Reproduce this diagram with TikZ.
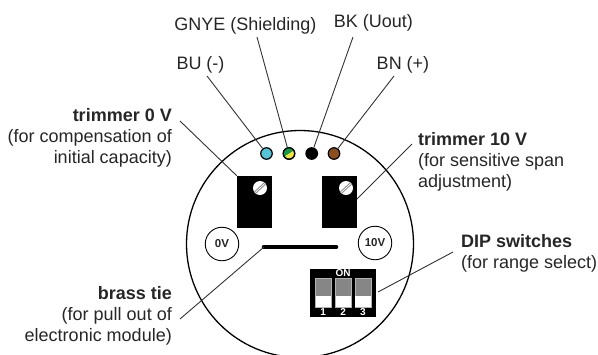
\documentclass[tikz,border=0pt]{standalone}
\usepackage{fontspec}
\usetikzlibrary{calc}
\setmainfont{Liberation Sans}
\definecolor{bublue}{HTML}{55C3D8}
\definecolor{gngreen}{HTML}{129A4E}
\definecolor{yeyellow}{HTML}{F2E640}
\definecolor{bnbrown}{HTML}{8B4E1E}
\definecolor{leadgray}{HTML}{333333}
\definecolor{txtgray}{HTML}{262626}
\tikzset{
  x=1pt,y=-1pt,
  lbl/.style={inner sep=0pt,text=txtgray,font=\fontsize{18}{21}\selectfont},
  wire/.style={inner sep=0pt,minimum size=11.5pt,circle,draw=black,line width=1.2pt},
  leader/.style={leadgray,line width=0.9pt},
  trimbox/.style={fill=black,draw=none,inner sep=0pt,minimum width=35pt,minimum height=52pt},
  screw/.style={circle,fill=white,draw=none,inner sep=0pt,minimum size=14pt},
  refpt/.style={circle,draw=black,line width=0.9pt,inner sep=0pt,minimum size=33.5pt,text=txtgray,font=\fontsize{11.5}{12}\selectfont\bfseries},
  dipsw/.style={fill=gray!95,draw=gray!60,line width=0.5pt,inner sep=0pt,minimum width=15.5pt,minimum height=29pt},
  diplbl/.style={text=white,inner sep=0pt,font=\fontsize{10}{10}\selectfont\bfseries},
}
\begin{document}
\begin{tikzpicture}
\useasboundingbox (0,0) rectangle (598,354);
\node[circle,draw=black,line width=1.3pt,inner sep=0pt,minimum size=227pt] (body) at (300,244) {};
% wires
\node[wire,fill=bublue] (bu) at (266.5,153.5) {};
\node[wire,fill=yeyellow] (gnye) at (289,153.5) {};
\begin{scope}
  \clip (gnye.center) circle[radius=5.75];
  \fill[gngreen] ($(gnye.center)+(-7,4.5)$) -- ($(gnye.center)+(7,-4.5)$) -- ($(gnye.center)+(-7,-8)$) -- cycle;
\end{scope}
\draw[black,line width=1.2pt] (gnye.center) circle[radius=5.75];
\node[wire,fill=black] (bk) at (311.7,153.5) {};
\node[wire,fill=bnbrown] (bn) at (334,153.5) {};
% trimmers
\node[trimbox] (trimL) at (254.5,202) {};
\node[trimbox] (trimR) at (339.5,202) {};
\foreach \n/\cx in {scL/260,scR/346}{
  \node[screw] (\n) at (\cx,188) {};
  \draw[gray,line width=2.6pt] ($(\n.center)+(-5,4.6)$) -- ++(10,-9.2);
  \draw[white,line width=0.8pt] ($(\n.center)+(-5,4.6)$) -- ++(10,-9.2);
}
% ref circles
\node[refpt] (zero) at (222,244) {0V};
\node[refpt] (ten) at (375,243) {10V};
% brass tie
\coordinate (tieL) at (264,247);
\coordinate (tieR) at (336,247);
\draw[black,line width=4.6pt,line cap=round] (tieL) -- (tieR);
% DIP
\node[fill=black,inner sep=0pt,minimum width=66pt,minimum height=48pt] (dip) at (343,293) {};
\foreach \n/\cx/\t in {a/323.2/1,b/343.2/2,c/363/3}{
  \node[dipsw] (sw\n) at (\cx,292.5) {};
  \fill[white] ([xshift=.4pt,yshift=.4pt]sw\n.south west) rectangle ([xshift=-.4pt]sw\n.east |- 0,296);
  \node[diplbl] at (\cx,312.3) {\t};
}
\node[diplbl] (on) at (343,273.5) {ON};
% labels
\node[lbl,anchor=base] (tbu) at (200.5,69) {BU (-)};
\node[lbl,anchor=base] (tgn) at (245.5,30) {GNYE (Shielding)};
\node[lbl,anchor=base] (tbk) at (373.5,27.3) {BK (Uout)};
\node[lbl,anchor=base] (tbn) at (403,69) {BN (+)};
\node[lbl,anchor=base east,align=right] (t0) at (172,163) {\textbf{trimmer 0 V}\\(for compensation of\\initial capacity)};
\node[lbl,anchor=base west,align=left] (t10) at (418,187) {\textbf{trimmer 10 V}\\(for sensitive span\\adjustment)};
\node[lbl,anchor=base west,align=left] (tdip) at (461,268.5) {\textbf{DIP switches}\\(for range select)};
\node[lbl,anchor=base east,align=right] (ttie) at (172,341) {\textbf{brass tie}\\(for pull out of\\electronic module)};
% leaders
\coordinate (lbu) at (207,76);
\coordinate (lgn) at (257,37);
\coordinate (lbk) at (353,37);
\coordinate (lbn) at (394,76);
\coordinate (l0) at (180,121);
\coordinate (l10) at (412,144);
\coordinate (ltie) at (180,319);
\coordinate (ldip) at (453,252);
\draw[leader] (lbu) -- (bu);
\draw[leader] (lgn) -- (gnye);
\draw[leader] (lbk) -- (bk);
\draw[leader] (lbn) -- (bn);
\draw[leader] (l0) -- (trimL.north west);
\draw[leader] (l10) -- (357,199);
\draw[leader] (ltie) -- (tieL);
\draw[leader] (ldip) -- (378,292);
\end{tikzpicture}
\end{document}
